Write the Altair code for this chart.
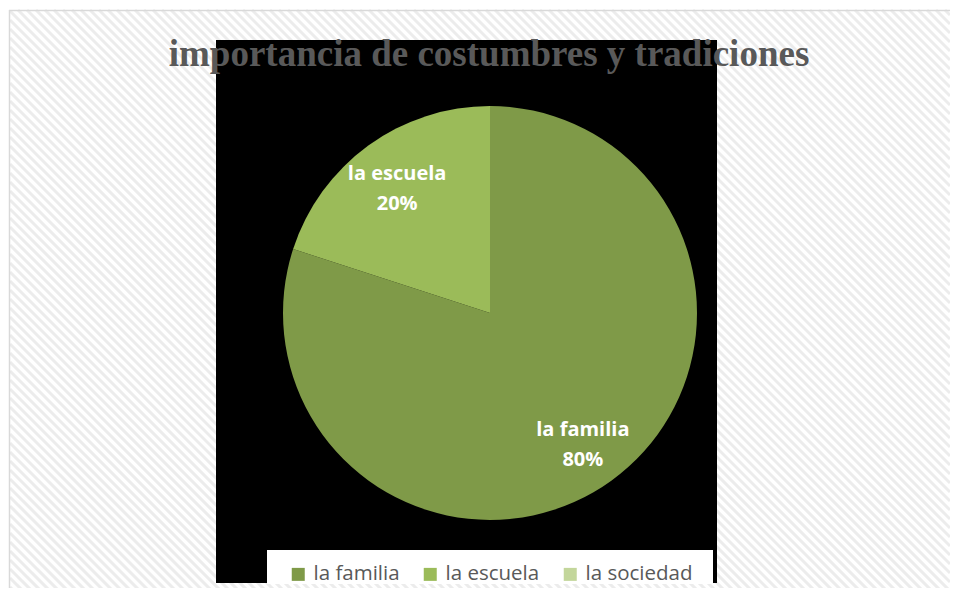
import altair as alt
import pandas as pd

# ---- data ----
categorias = ["la familia", "la escuela", "la sociedad"]
valores = [80, 20, 0]          # percent
colores = ["#7F9A48", "#9BBB59", "#C3D69B"]
titulo = "importancia de costumbres y tradiciones"

df = pd.DataFrame({"categoria": categorias, "valor": valores, "orden": list(range(len(categorias)))})
one = pd.DataFrame({"k": [0]})

W, H = 942, 580
CX, CY, R = 482, 305, 207

# diagonal hatch of the chart area (decoration)
hatch = alt.Chart(alt.sequence(start=-620, stop=960, step=9, as_="c")).transform_calculate(
    x1="max(datum.c, 2)", y1="2 + max(datum.c, 2) - datum.c",
    x2="min(datum.c + 620, 942)", y2="2 + min(datum.c + 620, 942) - datum.c",
).transform_filter("datum.x2 > datum.x1").mark_rule(color="#ececec", strokeWidth=3).encode(
    x=alt.X("x1:Q", scale=None), x2="x2:Q",
    y=alt.Y("y1:Q", scale=None), y2="y2:Q",
)

border_left = alt.Chart(one).mark_rule(color="#d9d9d9", strokeWidth=1.5).encode(
    x=alt.value(1.5), y=alt.value(2), y2=alt.value(H)
)
border_top = alt.Chart(one).mark_rule(color="#d9d9d9", strokeWidth=1.5).encode(
    x=alt.value(1), x2=alt.value(W), y=alt.value(2.5)
)

plot_bg = alt.Chart(one).mark_rect(color="black").encode(
    x=alt.value(208), x2=alt.value(709), y=alt.value(32), y2=alt.value(575)
)

color_scale = alt.Scale(domain=categorias, range=colores)

arcs = alt.Chart(df).mark_arc(radius=R, stroke="transparent").encode(
    theta=alt.Theta("valor:Q", stack=True),
    order=alt.Order("orden:O"),
    color=alt.Color(
        "categoria:N", scale=color_scale, sort=categorias,
        legend=alt.Legend(
            orient="none", legendX=280, legendY=556, direction="horizontal",
            title=None, symbolType="square", symbolSize=169, symbolStrokeWidth=0,
            labelFont="Open Sans", labelFontSize=20.5, labelColor="#595959",
            labelOffset=5, columnPadding=20, padding=0, labelLimit=300,
        ),
    ),
    x=alt.value(CX), y=alt.value(CY),
)

labels = alt.Chart(df).transform_filter("datum.valor > 0").transform_calculate(
    etiqueta="datum.categoria + '\\n' + datum.valor + '%'"
).mark_text(
    radius=158, font="Open Sans", fontSize=20, fontWeight="bold", color="white",
    lineBreak="\n", lineHeight=30, align="center", baseline="middle", dy=-11,
).encode(
    theta=alt.Theta("valor:Q", stack=True),
    order=alt.Order("orden:O"),
    text="etiqueta:N",
    x=alt.value(CX), y=alt.value(CY),
)

legend_box = alt.Chart(one).mark_rect(color="white").encode(
    x=alt.value(259), x2=alt.value(705), y=alt.value(542), y2=alt.value(576)
)

title = alt.Chart(one).mark_text(
    text=titulo, font="Liberation Serif", fontSize=37, fontWeight="bold",
    color="#595959", align="center", baseline="alphabetic",
).encode(x=alt.value(481), y=alt.value(58))

chart = alt.layer(hatch, border_left, border_top, plot_bg, arcs, labels, legend_box, title).properties(
    width=W, height=H,
    autosize=alt.AutoSizeParams(type="none"),
    padding={"left": 0, "top": 0, "right": 0, "bottom": 0},
    background="white",
).configure_view(stroke="transparent")

chart.save("out.html", embed_options={"renderer": "svg", "actions": False})
